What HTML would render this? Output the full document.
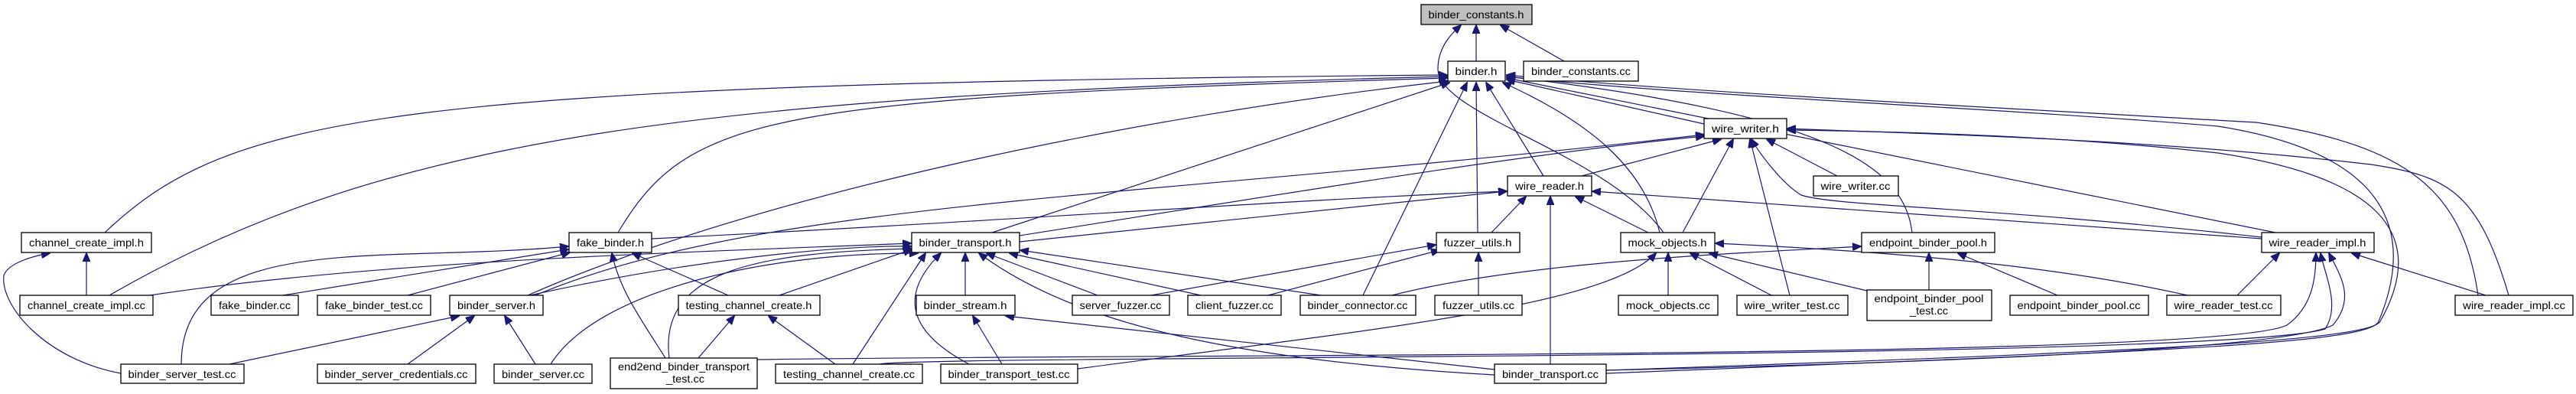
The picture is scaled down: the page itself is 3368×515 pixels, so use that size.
<!DOCTYPE html>
<html><head><meta charset="utf-8"><style>
html,body{margin:0;padding:0;background:#fff;}
svg{display:block}
text{font-family:"Liberation Sans",sans-serif;font-size:14px;fill:#000}
.n{fill:#fff;stroke:#000;stroke-width:1.3}
.e{fill:none;stroke:#191970;stroke-width:1.2;marker-end:url(#a)}
</style></head><body>
<svg width="3368" height="515" viewBox="0 0 3368 515" xmlns="http://www.w3.org/2000/svg">
<defs><marker id="a" markerUnits="userSpaceOnUse" markerWidth="12" markerHeight="10" refX="11" refY="5" orient="auto"><path d="M0,0 L12,5 L0,10 z" fill="#191970" stroke="#191970"/></marker></defs>
<g>
<path class="e" d="M1930 80 L1930 33"/>
<path class="e" d="M2045 80 L1962 33"/>
<path class="e" d="M2175 304 C2100 200 1880 150 1880 90 C1880 60 1900 42 1910 33"/>
<path class="e" d="M137 304 C300 150 500 110 1892 98"/>
<path class="e" d="M143 386 C500 180 900 125 1892 100"/>
<path class="e" d="M808 304 C900 150 1000 128 1892 102"/>
<path class="e" d="M690 386 C1000 250 1500 150 1893 106"/>
<path class="e" d="M1297 304 L1895 108"/>
<path class="e" d="M1782 386 L1918 108"/>
<path class="e" d="M1932 304 L1930 108"/>
<path class="e" d="M2018 230 L1943 108"/>
<path class="e" d="M2170 304 C2150 220 2080 160 1965 108"/>
<path class="e" d="M2228 162 L1970 104"/>
<path class="e" d="M2500 304 C2490 220 2400 150 1970 100"/>
<path class="e" d="M2975 304 L1970 102"/>
<path class="e" d="M3240 386 C3220 250 3150 190 2950 160 C2600 140 2200 120 1970 98"/>
<path class="e" d="M2100 488 C2800 460 3100 450 3110 420 C3160 300 3120 200 2900 165 C2600 140 2200 125 1970 100"/>
<path class="e" d="M2068 230 L2250 182"/>
<path class="e" d="M1333 308 C1700 250 2000 200 2228 178"/>
<path class="e" d="M700 386 C1000 260 1500 260 2228 176"/>
<path class="e" d="M2200 304 L2266 182"/>
<path class="e" d="M2402 230 L2310 182"/>
<path class="e" d="M2340 386 L2288 182"/>
<path class="e" d="M2957 310 C2600 270 2400 270 2355 255 C2330 240 2300 200 2290 182"/>
<path class="e" d="M3280 386 C3240 250 3200 230 3100 215 C2800 180 2500 175 2337 168"/>
<path class="e" d="M2100 484 C2800 460 3100 445 3112 420 C3180 300 3100 230 2900 200 C2700 178 2500 172 2337 170"/>
<path class="e" d="M852 312 C1300 290 1700 260 1970 250"/>
<path class="e" d="M1333 316 L1970 250"/>
<path class="e" d="M1950 304 L1995 257"/>
<path class="e" d="M2155 304 L2060 257"/>
<path class="e" d="M2027 476 L2027 257"/>
<path class="e" d="M2957 312 L2082 250"/>
<path class="e" d="M370 386 L743 326"/>
<path class="e" d="M533 386 L745 330"/>
<path class="e" d="M952 386 L827 331"/>
<path class="e" d="M870 468 C840 420 810 380 800 331"/>
<path class="e" d="M237 476 C237 300 500 345 743 322"/>
<path class="e" d="M113 386 L113 331"/>
<path class="e" d="M158 488 C60 470 0 400 5 360 C10 345 40 335 65 331"/>
<path class="e" d="M196 386 C500 340 900 330 1191 318"/>
<path class="e" d="M693 386 C900 340 1100 320 1191 322"/>
<path class="e" d="M1019 386 L1192 326"/>
<path class="e" d="M875 468 C860 350 1000 330 1192 325"/>
<path class="e" d="M720 476 C780 380 1000 330 1200 331"/>
<path class="e" d="M1115 476 L1210 331"/>
<path class="e" d="M1267 476 C1180 430 1180 380 1230 331"/>
<path class="e" d="M1262 386 L1262 331"/>
<path class="e" d="M1435 386 L1290 331"/>
<path class="e" d="M1570 386 L1320 331"/>
<path class="e" d="M1727 386 L1334 327"/>
<path class="e" d="M1954 490 C1600 470 1400 420 1280 331"/>
<path class="e" d="M300 476 L600 413"/>
<path class="e" d="M533 476 L620 413"/>
<path class="e" d="M700 476 L660 413"/>
<path class="e" d="M913 468 L960 413"/>
<path class="e" d="M1092 476 L1005 413"/>
<path class="e" d="M1310 476 L1272 413"/>
<path class="e" d="M1954 483 L1315 413"/>
<path class="e" d="M1505 386 L1877 320"/>
<path class="e" d="M1658 386 L1882 327"/>
<path class="e" d="M1933 386 L1933 331"/>
<path class="e" d="M2181 386 L2181 331"/>
<path class="e" d="M2316 386 L2210 331"/>
<path class="e" d="M2441 380 L2235 331"/>
<path class="e" d="M2860 386 C2700 350 2500 330 2243 318"/>
<path class="e" d="M1409 482 C1800 430 2100 400 2165 331"/>
<path class="e" d="M2522 379 L2522 331"/>
<path class="e" d="M2690 386 L2560 331"/>
<path class="e" d="M1820 386 C2000 340 2300 330 2433 322"/>
<path class="e" d="M2925 386 L2980 331"/>
<path class="e" d="M3250 386 L3075 331"/>
<path class="e" d="M990 470 C1500 462 2900 470 2990 425 C3025 400 3028 360 3028 331"/>
<path class="e" d="M1150 476 C1200 464 2900 472 3040 430 C3060 400 3040 360 3034 331"/>
<path class="e" d="M2100 484 C2700 470 3000 450 3050 425 C3080 390 3060 360 3045 331"/>
</g>
<g>
<rect x="1858" y="6" width="145" height="26" fill="#bfbfbf" stroke="#000" stroke-width="1.3"/><text x="1930" y="24" text-anchor="middle" textLength="125" lengthAdjust="spacingAndGlyphs">binder_constants.h</text>
<rect class="n" x="1893" y="80" width="75" height="26"/><text x="1930" y="98" text-anchor="middle" textLength="55" lengthAdjust="spacingAndGlyphs">binder.h</text>
<rect class="n" x="1992" y="80" width="150" height="26"/><text x="2067" y="98" text-anchor="middle" textLength="130" lengthAdjust="spacingAndGlyphs">binder_constants.cc</text>
<rect class="n" x="2228" y="155" width="108" height="26"/><text x="2282" y="173" text-anchor="middle" textLength="88" lengthAdjust="spacingAndGlyphs">wire_writer.h</text>
<rect class="n" x="1971" y="230" width="110" height="26"/><text x="2026" y="248" text-anchor="middle" textLength="90" lengthAdjust="spacingAndGlyphs">wire_reader.h</text>
<rect class="n" x="2371" y="230" width="111" height="26"/><text x="2426" y="248" text-anchor="middle" textLength="91" lengthAdjust="spacingAndGlyphs">wire_writer.cc</text>
<rect class="n" x="28" y="304" width="170" height="26"/><text x="113" y="322" text-anchor="middle" textLength="150" lengthAdjust="spacingAndGlyphs">channel_create_impl.h</text>
<rect class="n" x="744" y="304" width="108" height="26"/><text x="798" y="322" text-anchor="middle" textLength="88" lengthAdjust="spacingAndGlyphs">fake_binder.h</text>
<rect class="n" x="1192" y="304" width="141" height="26"/><text x="1262" y="322" text-anchor="middle" textLength="121" lengthAdjust="spacingAndGlyphs">binder_transport.h</text>
<rect class="n" x="1878" y="304" width="109" height="26"/><text x="1932" y="322" text-anchor="middle" textLength="89" lengthAdjust="spacingAndGlyphs">fuzzer_utils.h</text>
<rect class="n" x="2119" y="304" width="123" height="26"/><text x="2180" y="322" text-anchor="middle" textLength="103" lengthAdjust="spacingAndGlyphs">mock_objects.h</text>
<rect class="n" x="2434" y="304" width="174" height="26"/><text x="2521" y="322" text-anchor="middle" textLength="154" lengthAdjust="spacingAndGlyphs">endpoint_binder_pool.h</text>
<rect class="n" x="2957" y="304" width="147" height="26"/><text x="3030" y="322" text-anchor="middle" textLength="127" lengthAdjust="spacingAndGlyphs">wire_reader_impl.h</text>
<rect class="n" x="26" y="386" width="174" height="26"/><text x="113" y="404" text-anchor="middle" textLength="154" lengthAdjust="spacingAndGlyphs">channel_create_impl.cc</text>
<rect class="n" x="276" y="386" width="114" height="26"/><text x="333" y="404" text-anchor="middle" textLength="94" lengthAdjust="spacingAndGlyphs">fake_binder.cc</text>
<rect class="n" x="415" y="386" width="148" height="26"/><text x="489" y="404" text-anchor="middle" textLength="128" lengthAdjust="spacingAndGlyphs">fake_binder_test.cc</text>
<rect class="n" x="588" y="386" width="122" height="26"/><text x="649" y="404" text-anchor="middle" textLength="102" lengthAdjust="spacingAndGlyphs">binder_server.h</text>
<rect class="n" x="887" y="386" width="185" height="26"/><text x="979" y="404" text-anchor="middle" textLength="165" lengthAdjust="spacingAndGlyphs">testing_channel_create.h</text>
<rect class="n" x="1198" y="386" width="129" height="26"/><text x="1262" y="404" text-anchor="middle" textLength="109" lengthAdjust="spacingAndGlyphs">binder_stream.h</text>
<rect class="n" x="1402" y="386" width="127" height="26"/><text x="1465" y="404" text-anchor="middle" textLength="107" lengthAdjust="spacingAndGlyphs">server_fuzzer.cc</text>
<rect class="n" x="1553" y="386" width="122" height="26"/><text x="1614" y="404" text-anchor="middle" textLength="102" lengthAdjust="spacingAndGlyphs">client_fuzzer.cc</text>
<rect class="n" x="1700" y="386" width="151" height="26"/><text x="1775" y="404" text-anchor="middle" textLength="131" lengthAdjust="spacingAndGlyphs">binder_connector.cc</text>
<rect class="n" x="1876" y="386" width="114" height="26"/><text x="1933" y="404" text-anchor="middle" textLength="94" lengthAdjust="spacingAndGlyphs">fuzzer_utils.cc</text>
<rect class="n" x="2116" y="386" width="130" height="26"/><text x="2181" y="404" text-anchor="middle" textLength="110" lengthAdjust="spacingAndGlyphs">mock_objects.cc</text>
<rect class="n" x="2271" y="386" width="145" height="26"/><text x="2343" y="404" text-anchor="middle" textLength="125" lengthAdjust="spacingAndGlyphs">wire_writer_test.cc</text>
<rect class="n" x="2441" y="379" width="163" height="40"/><text x="2522" y="395" text-anchor="middle" textLength="143" lengthAdjust="spacingAndGlyphs">endpoint_binder_pool</text><text x="2522" y="411" text-anchor="middle" textLength="50" lengthAdjust="spacingAndGlyphs">_test.cc</text>
<rect class="n" x="2628" y="386" width="181" height="26"/><text x="2718" y="404" text-anchor="middle" textLength="161" lengthAdjust="spacingAndGlyphs">endpoint_binder_pool.cc</text>
<rect class="n" x="2833" y="386" width="149" height="26"/><text x="2907" y="404" text-anchor="middle" textLength="129" lengthAdjust="spacingAndGlyphs">wire_reader_test.cc</text>
<rect class="n" x="3210" y="386" width="154" height="26"/><text x="3287" y="404" text-anchor="middle" textLength="134" lengthAdjust="spacingAndGlyphs">wire_reader_impl.cc</text>
<rect class="n" x="158" y="476" width="161" height="25"/><text x="238" y="494" text-anchor="middle" textLength="141" lengthAdjust="spacingAndGlyphs">binder_server_test.cc</text>
<rect class="n" x="415" y="476" width="207" height="25"/><text x="518" y="494" text-anchor="middle" textLength="187" lengthAdjust="spacingAndGlyphs">binder_server_credentials.cc</text>
<rect class="n" x="646" y="476" width="128" height="25"/><text x="710" y="494" text-anchor="middle" textLength="108" lengthAdjust="spacingAndGlyphs">binder_server.cc</text>
<rect class="n" x="798" y="468" width="192" height="40"/><text x="894" y="484" text-anchor="middle" textLength="172" lengthAdjust="spacingAndGlyphs">end2end_binder_transport</text><text x="896" y="500" text-anchor="middle" textLength="50" lengthAdjust="spacingAndGlyphs">_test.cc</text>
<rect class="n" x="1014" y="476" width="192" height="25"/><text x="1110" y="494" text-anchor="middle" textLength="172" lengthAdjust="spacingAndGlyphs">testing_channel_create.cc</text>
<rect class="n" x="1230" y="476" width="179" height="25"/><text x="1319" y="494" text-anchor="middle" textLength="159" lengthAdjust="spacingAndGlyphs">binder_transport_test.cc</text>
<rect class="n" x="1954" y="476" width="146" height="25"/><text x="2027" y="494" text-anchor="middle" textLength="126" lengthAdjust="spacingAndGlyphs">binder_transport.cc</text>
</g>
</svg>
</body></html>
